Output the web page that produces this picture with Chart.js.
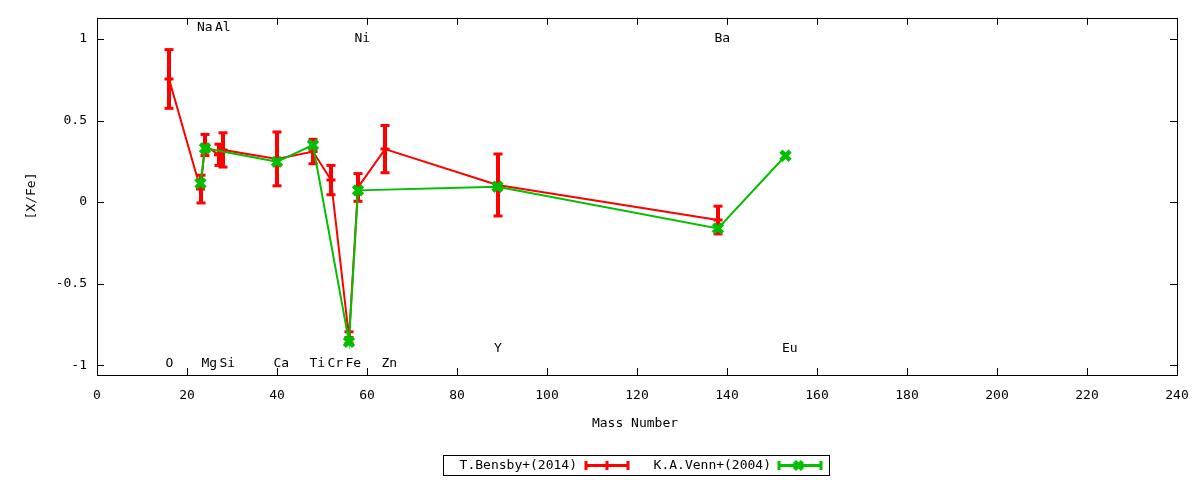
<!DOCTYPE html>
<html>
<head>
<meta charset="utf-8">
<script src="https://cdn.jsdelivr.net/npm/chart.js@4.4.0/dist/chart.umd.min.js"></script>
<style>
  body { margin: 0; background: #fff; }
</style>
</head>
<body>
<canvas id="myChart" width="1200" height="480"></canvas>
<script>
// T.Bensby+(2014): mass number, [X/Fe], error
const bensbyMass = [16, 23, 24, 27, 28, 40, 48, 52, 56, 58, 64, 89, 138];
const bensbyVal  = [0.755, 0.08, 0.35, 0.29, 0.32, 0.265, 0.31, 0.135, -0.83, 0.09, 0.325, 0.105, -0.11];
const bensbyErr  = [0.18, 0.085, 0.065, 0.065, 0.105, 0.165, 0.075, 0.09, 0.035, 0.085, 0.145, 0.19, 0.085];

// K.A.Venn+(2004)
const vennMass = [23, 24, 40, 48, 56, 58, 89, 138, 153];
const vennVal  = [0.115, 0.33, 0.247, 0.35, -0.857, 0.072, 0.094, -0.161, 0.284];

// element names written on the plot, at their mass number
const elemNames = ["O", "Na", "Mg", "Al", "Si", "Ca", "Ti", "Cr", "Fe", "Ni", "Zn", "Y", "Ba", "Eu"];
const elemMass  = [16, 23, 24, 27, 28, 40, 48, 52, 56, 58, 64, 89, 138, 153];
const elemRowY  = [-0.99, 1.07, -0.99, 1.07, -0.99, -0.99, -0.99, -0.99, -0.99, 1.0, -0.99, -0.9, 1.0, -0.9];

const xTicks = [0, 20, 40, 60, 80, 100, 120, 140, 160, 180, 200, 220, 240];
const yTicks = [-1, -0.5, 0, 0.5, 1];

const RED = "#ff0000";
const GREEN = "#00c000";
const FONT = '13px "DejaVu Sans Mono"';

function seg(ctx, x1, y1, x2, y2) {
    ctx.beginPath();
    ctx.moveTo(x1, y1);
    ctx.lineTo(x2, y2);
    ctx.stroke();
}

function drawX(ctx, x, y, r) {
    seg(ctx, x - r, y - r, x + r, y + r);
    seg(ctx, x - r, y + r, x + r, y - r);
}

const gnuplotLook = {
    id: "gnuplotLook",
    afterDatasetDraw(chart, args) {
        if (args.index !== 0) return;
        // error bars of the red series, drawn before the green one goes on top
        const ctx = chart.ctx, xs = chart.scales.x, ys = chart.scales.y;
        ctx.save();
        ctx.strokeStyle = RED;
        for (let i = 0; i < bensbyMass.length; i++) {
            const px = Math.round(xs.getPixelForValue(bensbyMass[i]));
            const top = ys.getPixelForValue(bensbyVal[i] + bensbyErr[i]);
            const bot = ys.getPixelForValue(bensbyVal[i] - bensbyErr[i]);
            ctx.lineWidth = 4;
            seg(ctx, px, top, px, bot);
            ctx.lineWidth = 3;
            seg(ctx, px - 4.5, top, px + 4.5, top);
            seg(ctx, px - 4.5, bot, px + 4.5, bot);
        }
        ctx.restore();
    },
    afterDraw(chart) {
        const ctx = chart.ctx, xs = chart.scales.x, ys = chart.scales.y;
        const a = chart.chartArea;
        ctx.save();
        ctx.strokeStyle = "#000";
        ctx.lineWidth = 1;
        ctx.strokeRect(Math.round(a.left) + 0.5, Math.round(a.top) + 0.5,
            Math.round(a.right - a.left), Math.round(a.bottom - a.top));

        // inward ticks, mirrored on top and right
        xTicks.forEach(v => {
            const px = Math.round(xs.getPixelForValue(v)) + 0.5;
            seg(ctx, px, a.bottom, px, a.bottom - 7);
            seg(ctx, px, a.top, px, a.top + 7);
        });
        yTicks.forEach(v => {
            const py = Math.round(ys.getPixelForValue(v)) + 0.5;
            seg(ctx, a.left, py, a.left + 7, py);
            seg(ctx, a.right, py, a.right - 7, py);
        });

        ctx.fillStyle = "#000";
        ctx.font = FONT;
        ctx.textBaseline = "middle";

        // element labels
        ctx.textAlign = "left";
        elemNames.forEach((n, i) => {
            ctx.fillText(n, xs.getPixelForValue(elemMass[i]) - 3.5, ys.getPixelForValue(elemRowY[i]));
        });

        // axis titles
        ctx.textAlign = "center";
        ctx.fillText("Mass Number", (a.left + a.right) / 2 - 2, 424);
        ctx.save();
        ctx.translate(32, 196);
        ctx.rotate(-Math.PI / 2);
        ctx.fillText("[X/Fe]", 0, 0);
        ctx.restore();

        // key box
        ctx.lineWidth = 1;
        ctx.strokeRect(443.5, 455.5, 386, 20);
        ctx.textAlign = "right";
        ctx.fillText("T.Bensby+(2014)", 577, 466);
        ctx.fillText("K.A.Venn+(2004)", 771, 466);

        ctx.lineWidth = 3;
        ctx.strokeStyle = RED;
        seg(ctx, 585, 465.5, 629, 465.5);
        seg(ctx, 586, 461, 586, 470);
        seg(ctx, 628, 461, 628, 470);
        seg(ctx, 607, 461, 607, 470);

        ctx.strokeStyle = GREEN;
        seg(ctx, 778, 465.5, 822, 465.5);
        seg(ctx, 779, 461, 779, 470);
        seg(ctx, 821, 461, 821, 470);
        ctx.lineWidth = 4.5;
        drawX(ctx, 798.5, 465.5, 4);
        ctx.restore();
    }
};

Chart.defaults.font.family = '"DejaVu Sans Mono"';
Chart.defaults.font.size = 13;
Chart.defaults.color = "#000";

const myChartRef = document.getElementById("myChart").getContext("2d");
new Chart(myChartRef, {
    type: "line",
    data: {
        datasets: [
            {
                label: "T.Bensby+(2014)",
                data: bensbyMass.map((m, i) => ({ x: m, y: bensbyVal[i] })),
                borderColor: RED,
                backgroundColor: RED,
                borderWidth: 2,
                pointStyle: "line",
                pointRadius: 4.5,
                pointBorderWidth: 3,
                pointBorderColor: RED,
                fill: false,
                tension: 0,
                order: 1
            },
            {
                label: "K.A.Venn+(2004)",
                data: vennMass.map((m, i) => ({ x: m, y: vennVal[i] })),
                borderColor: GREEN,
                backgroundColor: GREEN,
                borderWidth: 2,
                pointStyle: "crossRot",
                pointRadius: 6.5,
                pointBorderWidth: 4.5,
                pointBorderColor: GREEN,
                fill: false,
                tension: 0,
                order: 0
            }
        ]
    },
    options: {
        responsive: false,
        animation: false,
        devicePixelRatio: 1,
        layout: { padding: { top: 17, right: 23, left: 0, bottom: 0 } },
        plugins: {
            legend: { display: false },
            tooltip: { enabled: false }
        },
        scales: {
            x: {
                type: "linear",
                min: 0,
                max: 240,
                grid: { display: false, drawTicks: false },
                border: { display: false },
                ticks: { padding: 13, color: "#000", callback: v => String(v) },
                afterBuildTicks: s => { s.ticks = xTicks.map(v => ({ value: v })); },
                afterFit: s => {
                    s.height = 105;
                    // keep the frame where the layout padding puts it
                    s.paddingLeft = 0;
                    s.paddingRight = 0;
                }
            },
            y: {
                type: "linear",
                min: -1.06,
                max: 1.13,
                grid: { display: false, drawTicks: false },
                border: { display: false },
                ticks: { padding: 10, color: "#000", callback: v => String(v) },
                afterBuildTicks: s => { s.ticks = yTicks.map(v => ({ value: v })); },
                afterFit: s => { s.width = 97; }
            }
        }
    },
    plugins: [gnuplotLook]
});
</script>
</body>
</html>
